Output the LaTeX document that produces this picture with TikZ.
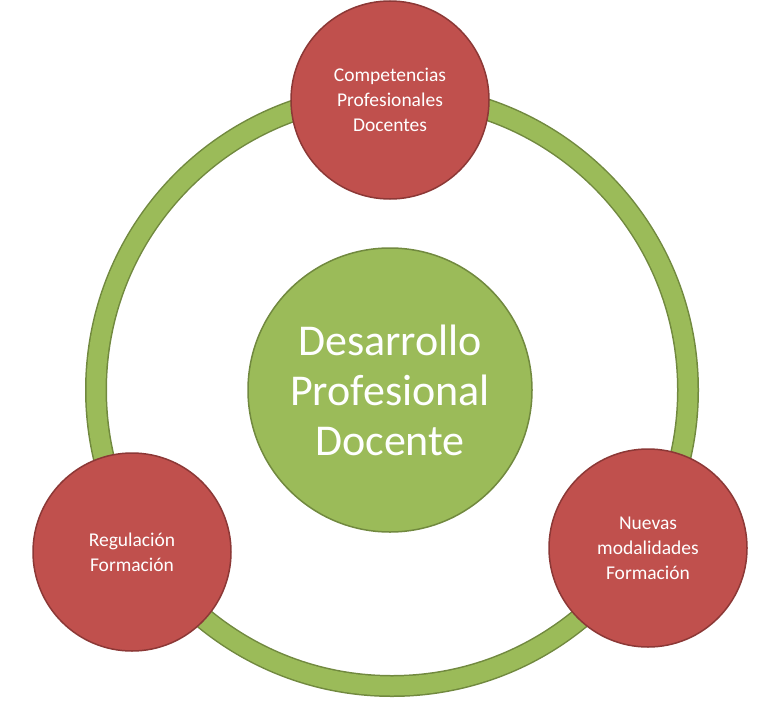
\documentclass[tikz,border=0pt]{standalone}
\usepackage{fontspec}
\setmainfont{Carlito}
\definecolor{redfill}{RGB}{192, 80, 77}
\definecolor{redline}{RGB}{140, 56, 54}
\definecolor{greenfill}{RGB}{155, 187, 89}
\definecolor{greenline}{RGB}{113, 137, 63}
\usetikzlibrary{positioning}
\begin{document}
\begin{tikzpicture}[x=1pt, y=1pt]
\tikzset{
  topic/.style={circle, minimum size=198pt, fill=redfill, draw=redline, line width=1.5pt,
    text=white, align=center, font=\fontsize{19.5}{25}\selectfont},
  core/.style={circle, minimum size=284pt, fill=greenfill, draw=greenline, line width=1.5pt,
    text=white, align=center, font=\fontsize{44}{50}\selectfont}
}
\useasboundingbox (0,0) rectangle (770,-725);
% ring
\draw [greenline, line width=22pt] (392pt,-390pt) circle (296pt);
\draw [greenfill, line width=19pt] (392pt,-390pt) circle (296pt);
\node (center) [core] at (390pt, -390pt) {Desarrollo\\Profesional\\Docente};
\node (top) [topic] at (390pt, -100pt) {Competencias\\Profesionales\\Docentes};
\node (left) [topic] at (132pt, -552pt) {Regulación\\Formación};
\node (right) [topic] at (648pt, -548pt) {Nuevas\\modalidades\\Formación};
\end{tikzpicture}
\end{document}
